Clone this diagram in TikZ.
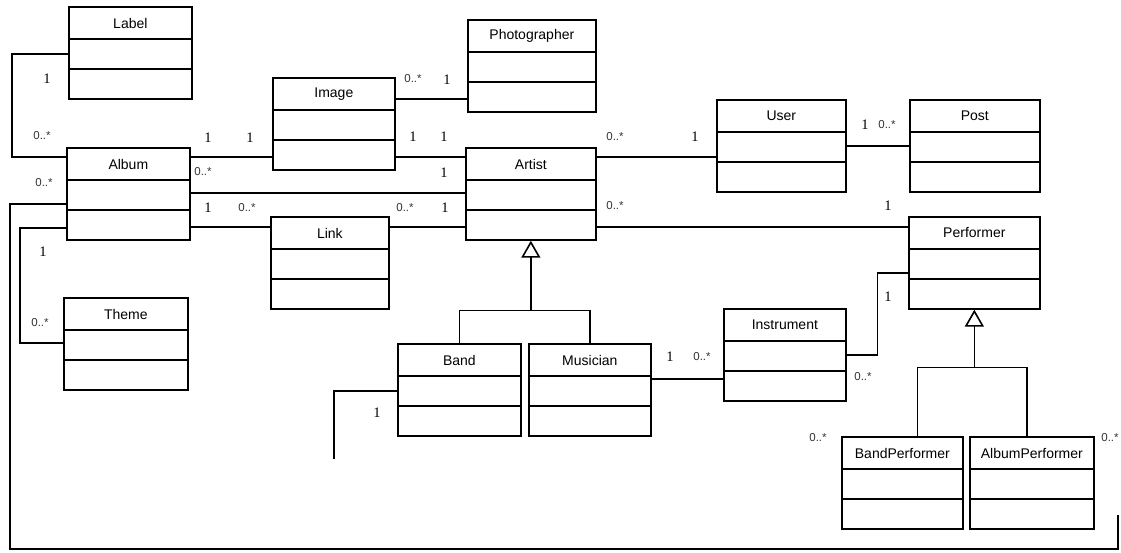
\documentclass[tikz,border=0pt]{standalone}
\usepackage{fontspec}
\setmainfont{Liberation Sans}
\newfontfamily\numfont{Liberation Serif}
\usetikzlibrary{positioning}
\usetikzlibrary{calc}
\usetikzlibrary{arrows.meta}
\tikzset{cls/.style = {draw, line width=1.7pt, anchor=north west, inner sep=0pt},
         clsname/.style = {font=\fontsize{14}{16}\selectfont, inner sep=0pt},
         assoc/.style = {line width=1.5pt},
         strong/.style = {line width=2.7pt},
         inherit/.style = {line width=1.6pt,
                           -{Triangle[open, length=17pt, width=19pt]}},
         one/.style = {font=\numfont\fontsize{14.5}{16}\selectfont, inner sep=0pt},
         many/.style = {font=\fontsize{11.5}{13}\selectfont, text=black!80, inner sep=0pt}}

% class box: node name, left, top, width, class name
\newcommand{\umlclass}[5]{%
  \node[cls, minimum width=#4, minimum height=92] (#1) at (#2,#3) {};
  \node[clsname] (#1-name) at ([yshift=-17]#1.north) {#5};
  \draw[line width=1.5pt] ([yshift=-33]#1.north west) -- ([yshift=-33]#1.north east);
  \draw[line width=1.5pt] ([yshift=-63]#1.north west) -- ([yshift=-63]#1.north east);
}

\begin{document}
\begin{tikzpicture}[x=1pt, y=-1pt]
  \useasboundingbox (0,0) rectangle (1121,553);

  \umlclass{label}{68}{6}{123}{Label}
  \umlclass{album}{66}{147}{123}{Album}
  \umlclass{image}{272}{77}{122}{Image}
  \umlclass{photographer}{467}{19}{128}{Photographer}
  \umlclass{artist}{465}{147}{130}{Artist}
  \umlclass{user}{716}{99}{129}{User}
  \umlclass{post}{909}{99}{130}{Post}
  \umlclass{performer}{908}{216}{131}{Performer}
  \umlclass{link}{270}{216}{118}{Link}
  \umlclass{theme}{63}{297}{124}{Theme}
  \umlclass{band}{397}{343}{123}{Band}
  \umlclass{musician}{528}{343}{122}{Musician}
  \umlclass{instrument}{723}{308}{122}{Instrument}
  \umlclass{bandperf}{841}{436}{121}{BandPerformer}
  \umlclass{albumperf}{969}{436}{124}{AlbumPerformer}

  % associations
  \draw [assoc] ([yshift=-48]label.north west) -- ++(-56,0) |- ([yshift=-10]album.north west);
  \draw [assoc] ([yshift=-10]album.north east) -- ([yshift=-10]album.north east -| image.west);
  \draw [strong] ([yshift=-46]album.north east) -- ([yshift=-46]album.north east -| artist.west);
  \draw [assoc] ([yshift=-80]image.north east) -- ([yshift=-80]image.north east -| artist.west);
  \draw [assoc] ([yshift=-22]image.north east) -- ([yshift=-22]image.north east -| photographer.west);
  \draw [assoc] ([yshift=-80]album.north east) -- ([yshift=-80]album.north east -| link.west);
  \draw [assoc] ([yshift=-11]link.north east) -- ([yshift=-11]link.north east -| artist.west);
  \draw [assoc] ([yshift=-10]artist.north east) -- ([yshift=-10]artist.north east -| user.west);
  \draw [assoc] ([yshift=-47]user.north east) -- ([yshift=-47]user.north east -| post.west);
  \draw [assoc] ([yshift=-80]artist.north east) -- ([yshift=-80]artist.north east -| performer.west);
  \draw [assoc] ([yshift=-36]musician.north east) -- ([yshift=-36]musician.north east -| instrument.west);
  \draw [assoc] ([yshift=-47]instrument.north east) -- ++(31,0) |- ([yshift=-57]performer.north west);
  \draw [assoc] ([yshift=-81]album.north west) -- ++(-46,0) |- ([yshift=-46]theme.north west);
  \coordinate (bandend) at (334,459);
  \draw [assoc] ([yshift=-48]band.north west) -| (bandend);
  \coordinate (loopcorner) at (10,549);
  \coordinate (loopend) at (1118,515);
  \draw [assoc] ([yshift=-57]album.north west) -| (loopcorner) -| (loopend);

  % generalizations
  \coordinate (artistgen) at ([yshift=-70]artist.south);
  \draw [inherit] (artistgen) -- (artist.south);
  \draw [assoc] (band.north) |- (artistgen) -| (musician.north);
  \coordinate (perfgen) at ([yshift=-58]performer.south);
  \draw [inherit] (perfgen) -- (performer.south);
  \draw [assoc] ([xshift=15]bandperf.north) |- (perfgen) -| ([xshift=-5]albumperf.north);

  % multiplicities
  \foreach \x/\y [count=\i] in {47/79, 208/138, 250/138, 413/137, 444/137, 447/80,
                                444/173, 208/208, 445/208, 695/137, 865/125, 888/206,
                                670/357, 888/297, 377/413, 43/252}
    \node [one] (one\i) at (\x,\y) {1};
  \foreach \x/\y [count=\i] in {42/136, 203/172, 44/183, 413/79, 247/208, 405/208,
                                40/323, 615/137, 887/125, 615/206, 702/357, 863/377,
                                818/438, 1110/438}
    \node [many] (many\i) at (\x,\y) {0..*};
\end{tikzpicture}
\end{document}
